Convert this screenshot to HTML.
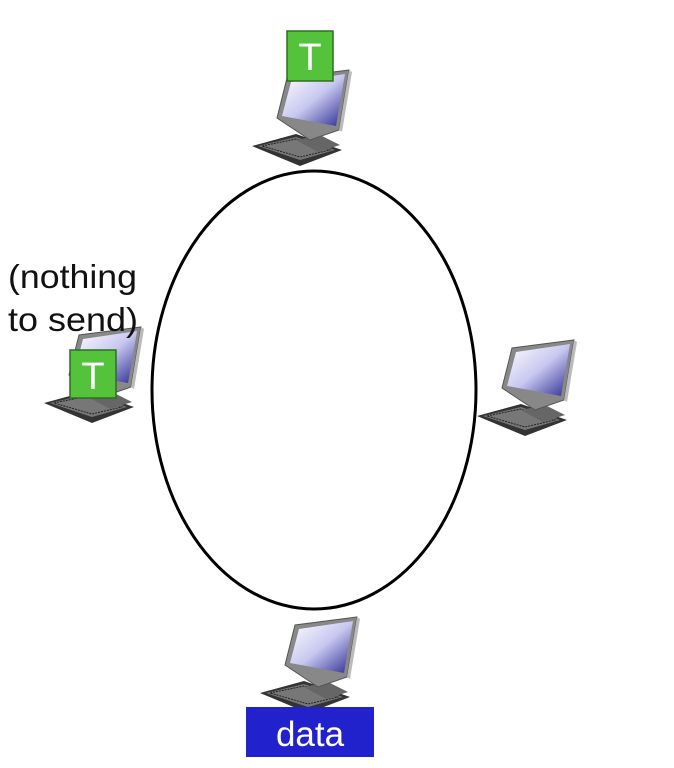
<!DOCTYPE html>
<html><head><style>body{margin:0;background:#fff}svg{display:block}</style></head><body>
<svg width="674" height="768" viewBox="0 0 674 768" xmlns="http://www.w3.org/2000/svg">
<defs>
<linearGradient id="scr" x1="0" y1="0" x2="1" y2="1">
<stop offset="0" stop-color="#ffffff"/><stop offset="0.5" stop-color="#c8c8f0"/><stop offset="1" stop-color="#2a2a90"/></linearGradient>
<g id="pc">
<polygon points="252,146 296,134 342,150 300,166" fill="#333"/>
<polygon points="258,146 296,137 335,150 300,160" fill="#777"/>
<polygon points="262,146 296,139 330,150 300,157" fill="none" stroke="#222" stroke-width="1" stroke-dasharray="2,1"/>
<polygon points="296,140 320,135 340,145 318,152" fill="#666"/>
<polygon points="277,118 287,78 349,70 339,130 310,140" fill="#888" stroke="#555" stroke-width="1"/>
<polygon points="282,116 291,82 345,74 336,126" fill="url(#scr)"/>
<polygon points="349,70 352,72 342,132 339,130" fill="#bbb"/>
</g>
</defs>
<use href="#pc"/>
<use href="#pc" transform="translate(-208,257)"/>
<use href="#pc" transform="translate(225,270)"/>
<use href="#pc" transform="translate(8,547)"/>
<rect x="287" y="31" width="46" height="50" fill="#55c23c" stroke="#2f6e22" stroke-width="1.5"/>
<text x="310" y="70" font-family="Liberation Sans, sans-serif" font-size="38" fill="#fff" text-anchor="middle">T</text>
<rect x="70" y="350" width="46" height="48" fill="#55c23c" stroke="#2f6e22" stroke-width="1.5"/>
<text x="93" y="389" font-family="Liberation Sans, sans-serif" font-size="38" fill="#fff" text-anchor="middle">T</text>
<ellipse cx="314" cy="390" rx="162" ry="219" fill="none" stroke="#000" stroke-width="3"/>
<text x="8" y="288" font-family="Liberation Sans, sans-serif" font-size="33" fill="#111" textLength="129" lengthAdjust="spacingAndGlyphs">(nothing</text>
<text x="8" y="331" font-family="Liberation Sans, sans-serif" font-size="33" fill="#111" textLength="130" lengthAdjust="spacingAndGlyphs">to send)</text>
<rect x="246" y="707" width="128" height="50" fill="#2222cc"/>
<text x="310" y="746" font-family="Liberation Sans, sans-serif" font-size="35" fill="#fff" text-anchor="middle">data</text>
</svg>
</body></html>
